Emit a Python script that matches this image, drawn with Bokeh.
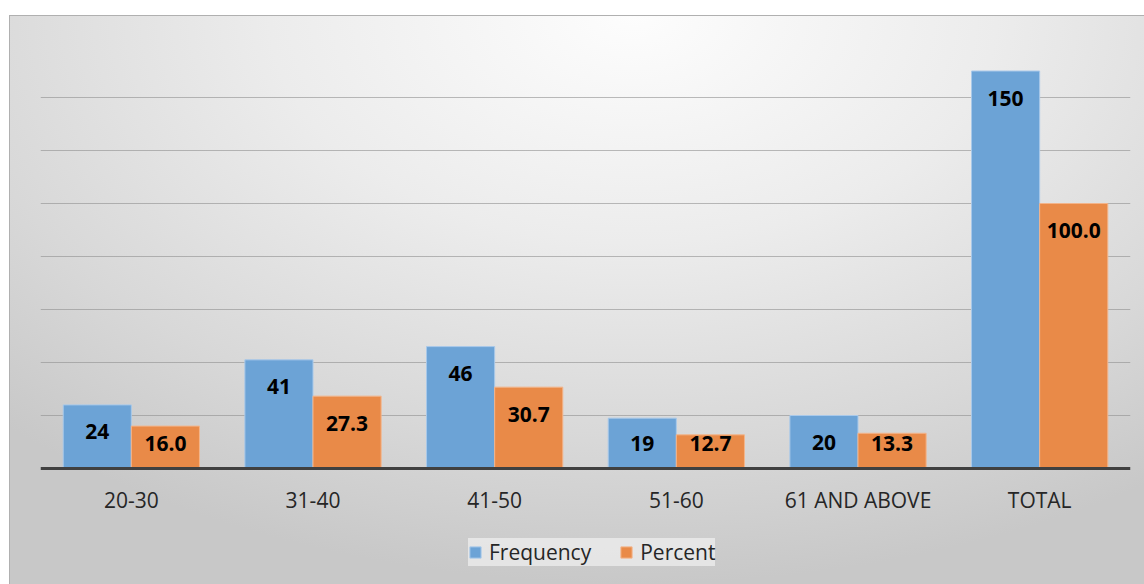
from bokeh.plotting import figure
from bokeh.models import ColumnDataSource, FixedTicker, Legend, LegendItem, Span
from bokeh.transform import dodge
from bokeh.core.properties import value
from bokeh.embed import file_html
from bokeh.resources import INLINE

categories = ["20-30", "31-40", "41-50", "51-60", "61 AND ABOVE", "TOTAL"]
frequency = [24, 41, 46, 19, 20, 150]
percent = [16.0, 27.3, 30.7, 12.7, 13.3, 100.0]
freq_labels = ["24", "41", "46", "19", "20", "150"]
pct_labels = ["16.0", "27.3", "30.7", "12.7", "13.3", "100.0"]
grid_ticks = [20, 40, 60, 80, 100, 120, 140, 160]
Y_MAX = 160

# labels sit inside the bar end, but never lower than a minimum height
LABEL_FLOOR = 19.6
src = ColumnDataSource(dict(cat=categories, freq=frequency, pct=percent,
                            fl=freq_labels, pl=pct_labels,
                            fy=[max(v, LABEL_FLOOR) for v in frequency],
                            py=[max(v, LABEL_FLOOR) for v in percent],
                            base=[0] * len(categories)))

BLUE = "#6ca3d6"
ORANGE = "#e98a48"
FONT = "Open Sans"

PLOT_H = 424      # px from 0 to Y_MAX
BELOW_H = 116     # px of room under the baseline for labels and legend
y_start = -BELOW_H * Y_MAX / PLOT_H

p = figure(x_range=categories, y_range=(y_start, Y_MAX),
           width=1135, height=569, frame_width=1090, frame_height=PLOT_H + BELOW_H,
           output_backend="svg", toolbar_location=None,
           min_border_left=31, min_border_right=14, min_border_top=29,
           min_border_bottom=0)
p.margin = (15, 0, 0, 9)
p.background_fill_color = None
p.border_fill_color = None
p.outline_line_color = None
p.styles = {
    "background": "radial-gradient(ellipse 80% 100% at 55% 0%, #fdfdfd 0%, #ececec 40%, #d8d8d8 75%, #c8c8c8 100%)",
    "box-shadow": "inset 1px 1px 0 #b0b0b0",
}

p.xaxis.visible = False
p.yaxis.visible = False
p.ygrid.ticker = FixedTicker(ticks=grid_ticks)
p.ygrid.grid_line_color = "#8f8f8f"
p.ygrid.grid_line_alpha = 0.6
p.ygrid.grid_line_width = 1
p.xgrid.grid_line_color = None

r1 = p.vbar(x=dodge("cat", -0.1875, range=p.x_range), top="freq", width=0.375,
            source=src, fill_color=BLUE, line_color="#a9c9ea", line_width=1)
r2 = p.vbar(x=dodge("cat", 0.1875, range=p.x_range), top="pct", width=0.375,
            source=src, fill_color=ORANGE, line_color="#f3b48a", line_width=1)

p.add_layout(Span(location=0, dimension="width", line_color="#404040", line_width=3))

p.text(x=dodge("cat", -0.1875, range=p.x_range), y="fy", text="fl", source=src,
       text_align="center", text_baseline="middle", y_offset=27,
       text_font=value(FONT), text_font_style="bold",
       text_font_size="21px", text_color="#000000")
p.text(x=dodge("cat", 0.1875, range=p.x_range), y="py", text="pl", source=src,
       text_align="center", text_baseline="middle", y_offset=27,
       text_font=value(FONT), text_font_style="bold",
       text_font_size="21px", text_color="#000000")

# category labels under the baseline
p.text(x="cat", y="base", text="cat", source=src,
       text_align="center", text_baseline="middle", y_offset=31,
       text_font=value(FONT), text_font_size="21px", text_color="#262626")

legend = Legend(items=[LegendItem(label="Frequency", renderers=[r1]),
                       LegendItem(label="Percent", renderers=[r2])],
                orientation="horizontal", location=(428, 18))
legend.label_text_font = FONT
legend.label_text_font_size = "21px"
legend.label_text_color = "#262626"
legend.glyph_width = 14
legend.glyph_height = 14
legend.label_standoff = 7
legend.spacing = 28
legend.padding = 10
legend.margin = 0
legend.background_fill_color = "#eaeaea"
legend.background_fill_alpha = 0.85
legend.border_line_color = None
p.add_layout(legend, "center")

open("out.html", "w").write(file_html(p, INLINE))
